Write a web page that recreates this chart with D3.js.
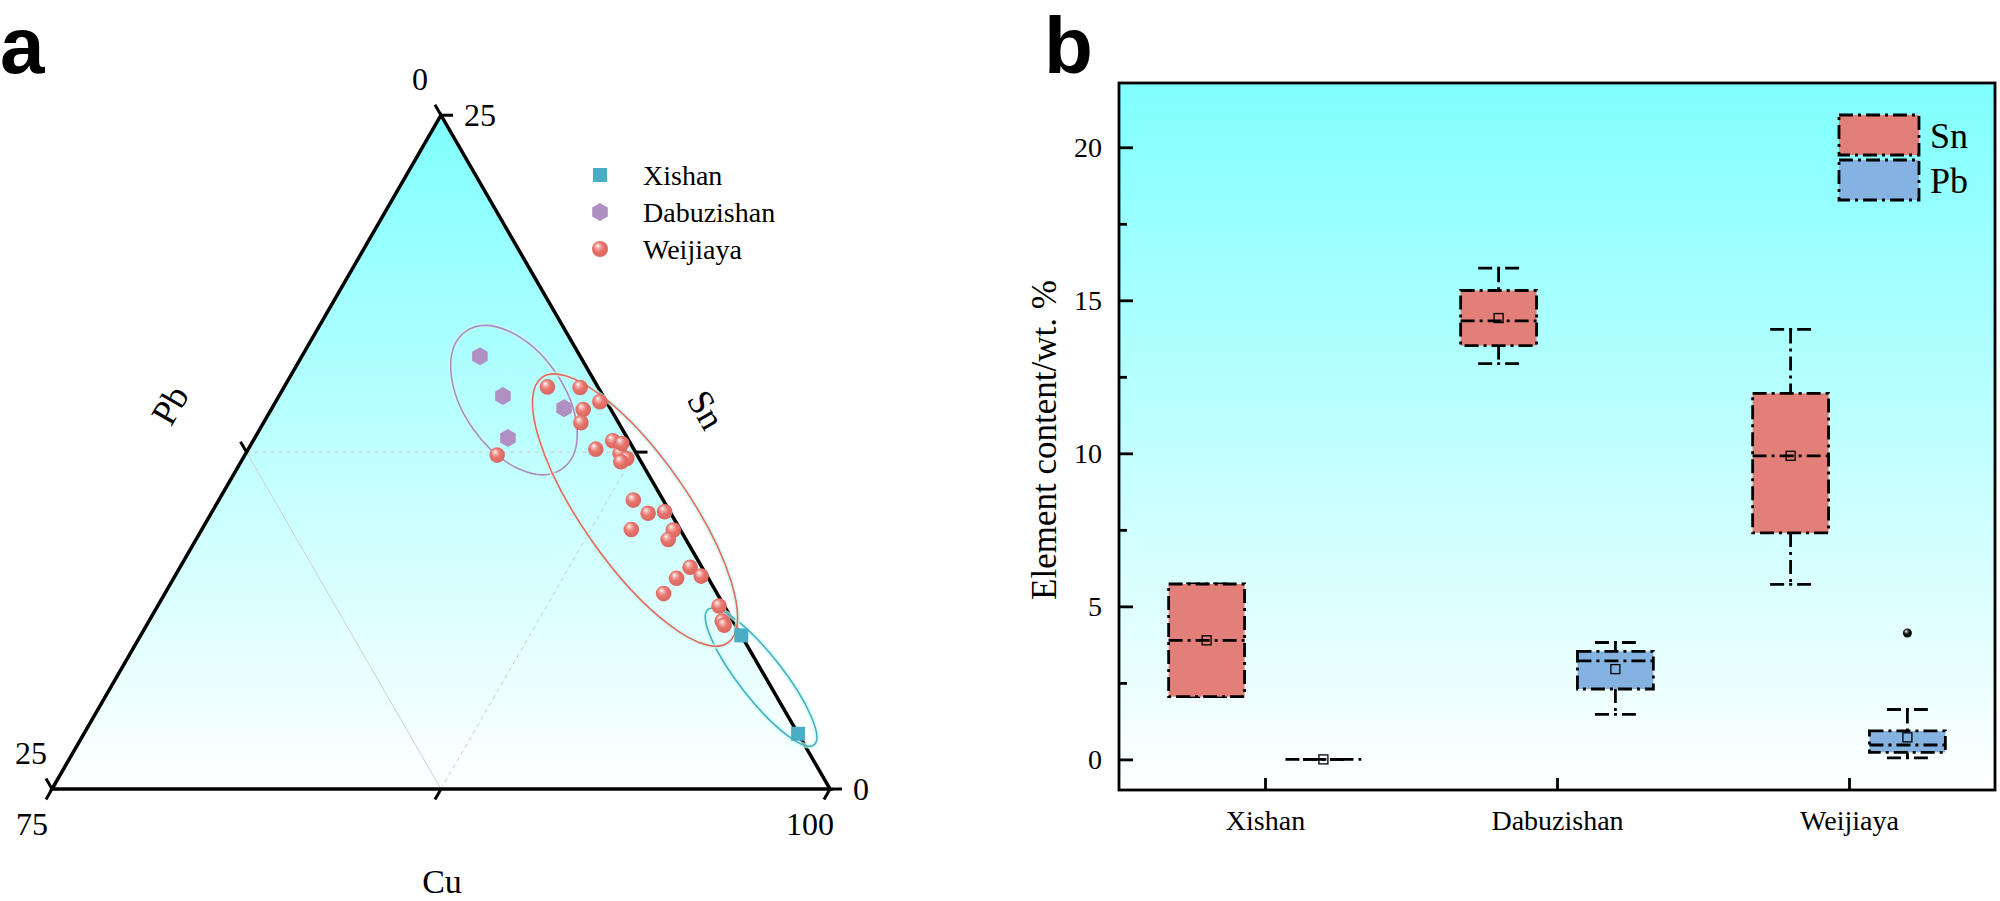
<!DOCTYPE html>
<html>
<head>
<meta charset="utf-8">
<script src="https://cdn.jsdelivr.net/npm/d3@7"></script>
<style>
body{margin:0;background:#fff;}
svg{display:block;font-family:"Liberation Serif","Times New Roman",serif;}
</style>
</head>
<body>
<div id="chart"></div>
<script>
// ternary data, wt.% of Sn and Pb (Cu is the rest)
var xishanSn = [2.05, 5.7]
var xishanPb = [0.0, 0.0]
var dabuSn = [16.06, 14.58, 13.02, 14.13]
var dabuPb = [3.22, 3.22, 3.84, 1.48]
var weijSn = [12.39, 14.92, 14.90, 14.37, 14.08, 13.59, 12.61, 12.92, 12.45, 12.26, 12.14, 12.82, 10.72, 10.23, 9.63, 10.29, 9.61, 9.26, 8.23, 7.90, 7.82, 7.25, 6.79, 6.23, 6.08]
var weijPb = [4.50, 1.62, 0.58, 0.21, 0.89, 1.21, 1.22, 0.52, 0.52, 0.40, 0.65, 0.28, 0.96, 0.73, 1.57, 0.17, 0.23, 0.57, 0.38, 0.19, 1.02, 1.72, 0.17, 0.35, 0.36]
// group ellipses: centre as Sn / Pb
var ellSn = [4.15, 14.43, 10.35]
var ellPb = [0.14, 2.94, 1.09]

var pbTicks = [0, 12.5, 25], pbTickLabels = ["0", "", "25"]
var snTicks = [0, 12.5, 25], snTickLabels = ["0", "", "25"]
var cuTicks = [75, 87.5, 100], cuTickLabels = ["75", "", "100"]

// box plot data: [min, q1, median, q3, max]
var groups = ["Xishan", "Dabuzishan", "Weijiaya"]
var snBox = [[2.05, 2.05, 3.89, 5.73, 5.73], [12.93, 13.52, 14.33, 15.32, 16.05], [5.72, 7.40, 9.92, 11.96, 14.05]]
var snMean = [3.89, 14.42, 9.92]
var pbBox = [[0, 0, 0, 0, 0], [1.47, 2.30, 3.22, 3.53, 3.82], [0.05, 0.23, 0.47, 0.93, 1.63]]
var pbMean = [0, 2.95, 0.72]
var pbOutliers = [[], [], [4.13]]
var yTicks = [0, 5, 10, 15, 20]
var yMinor = [2.5, 7.5, 12.5, 17.5]

var colSq = "#4BACC6", colHex = "#B08FC3"
var snFill = "#E27F78", pbFill = "#85B3E1"
var dash = "14,5,3,5"

var svg = d3.select("#chart").append("svg")
    .attr("width", 2000)
    .attr("height", 901)
var defs = svg.append("defs")

function vGrad(id, y1, y2){
    var g = defs.append("linearGradient").attr("id", id)
        .attr("gradientUnits", "userSpaceOnUse")
        .attr("x1", 0).attr("x2", 0).attr("y1", y1).attr("y2", y2)
    g.append("stop").attr("offset", "0%").attr("stop-color", "#80FFFF")
    g.append("stop").attr("offset", "100%").attr("stop-color", "#FFFFFF")
}
function sphereGrad(id, light, mid, dark){
    var g = defs.append("radialGradient").attr("id", id)
        .attr("cx", "45%").attr("cy", "45%").attr("r", "60%")
        .attr("fx", "35%").attr("fy", "28%")
    g.append("stop").attr("offset", "0%").attr("stop-color", "#ffffff")
    g.append("stop").attr("offset", "20%").attr("stop-color", light)
    g.append("stop").attr("offset", "50%").attr("stop-color", mid)
    g.append("stop").attr("offset", "100%").attr("stop-color", dark)
}
sphereGrad("sphRed", "#f4b8b3", "#e8756e", "#d6625b")
sphereGrad("sphBlack", "#888", "#111", "#000")

// ---------------- panel a : ternary ----------------
var side = 778, triH = side * Math.sqrt(3) / 2
var L = [52, 789], R = [52 + side, 789], T = [52 + side / 2, 789 - triH]
var wSn = d3.scaleLinear().domain([0, 25]).range([0, 1])
var wPb = d3.scaleLinear().domain([0, 25]).range([0, 1])
function proj(sn, pb){
    var a = wSn(sn), b = wPb(pb), c = 1 - a - b
    return [T[0] * a + L[0] * b + R[0] * c, T[1] * a + L[1] * b + R[1] * c]
}
vGrad("triGrad", T[1], L[1])

var ga = svg.append("g")
ga.append("text").attr("x", 0).attr("y", 73)
    .style("font-family", "'Liberation Sans',Arial,sans-serif")
    .style("font-weight", "bold").style("font-size", "80px").text("a")

ga.append("path")
    .attr("d", d3.line()([T, L, R]) + "Z")
    .attr("fill", "url(#triGrad)")

// grid lines at the middle of each axis
ga.append("path").attr("d", d3.line()([proj(12.5, 12.5), proj(12.5, 0)]))
    .attr("stroke", "#dcc3c6").attr("stroke-width", 1).attr("stroke-dasharray", "4,4")
ga.append("path").attr("d", d3.line()([proj(12.5, 12.5), proj(0, 12.5)]))
    .attr("stroke", "#cfcfcf").attr("stroke-width", 1)
ga.append("path").attr("d", d3.line()([proj(0, 12.5), proj(12.5, 0)]))
    .attr("stroke", "#c8c8c8").attr("stroke-width", 1).attr("stroke-dasharray", "4,4")

ga.append("path")
    .attr("d", d3.line()([T, L, R]) + "Z")
    .attr("fill", "none").attr("stroke", "#000").attr("stroke-width", 3.5)
    .attr("stroke-linejoin", "miter")

function ternTicks(vals, labels, pos, dir, labDist, anchor){
    vals.forEach(function(v, i){
        var p = pos(v)
        ga.append("line")
            .attr("x1", p[0]).attr("y1", p[1])
            .attr("x2", p[0] + dir[0] * 12).attr("y2", p[1] + dir[1] * 12)
            .attr("stroke", "#000").attr("stroke-width", 3)
        ga.append("text")
            .attr("x", p[0] + dir[0] * labDist).attr("y", p[1] + dir[1] * labDist)
            .attr("text-anchor", anchor).attr("dominant-baseline", "central")
            .style("font-size", "32px").text(labels[i])
    })
}
ternTicks(pbTicks, pbTickLabels, function(v){ return proj(25 - v, v) }, [-0.5, -0.866], 42, "middle")
ternTicks(snTicks, snTickLabels, function(v){ return proj(v, 0) }, [1, 0], 23, "start")
ternTicks(cuTicks, cuTickLabels, function(v){ return proj(0, 100 - v) }, [-0.5, 0.866], 40, "middle")

ga.append("text").attr("x", 442).attr("y", 893)
    .attr("text-anchor", "middle")
    .style("font-size", "34px").text("Cu")
ga.append("text").attr("transform", "translate(170,405) rotate(-60)")
    .attr("text-anchor", "middle").attr("dominant-baseline", "central")
    .style("font-size", "36px").text("Pb")
ga.append("text").attr("transform", "translate(706,410) rotate(60)")
    .attr("text-anchor", "middle").attr("dominant-baseline", "central")
    .style("font-size", "36px").text("Sn")

// ellipses
var ellRx = [22, 50, 53], ellRy = [86, 84, 162], ellRot = [-38, -35, -35]
var ellCol = [colSq, "#A88BC8", "#E8675F"]
ellSn.forEach(function(s, i){
    var c = proj(s, ellPb[i])
    var e = ga.append("g").attr("transform", "translate(" + c[0] + "," + c[1] + ") rotate(" + ellRot[i] + ")")
    e.append("ellipse").attr("rx", ellRx[i]).attr("ry", ellRy[i])
        .attr("fill", "none").attr("stroke", "#c8fff0").attr("stroke-width", 5).attr("opacity", 0.7)
    e.append("ellipse").attr("rx", ellRx[i]).attr("ry", ellRy[i])
        .attr("fill", "none").attr("stroke", ellCol[i]).attr("stroke-width", 1.6)
})

function hexPath(r){
    return d3.line()(d3.range(6).map(function(k){
        var a = Math.PI / 3 * k
        return [r * Math.sin(a), -r * Math.cos(a)]
    })) + "Z"
}
function drawSquare(g, p){
    g.append("rect").attr("x", p[0] - 7).attr("y", p[1] - 7)
        .attr("width", 14).attr("height", 14).attr("fill", colSq)
}
function drawHex(g, p){
    g.append("path").attr("d", hexPath(9))
        .attr("transform", "translate(" + p[0] + "," + p[1] + ")").attr("fill", colHex)
}
function drawSphere(g, p, r, fill){
    g.append("circle").attr("cx", p[0]).attr("cy", p[1]).attr("r", r).attr("fill", fill)
}

xishanSn.forEach(function(s, i){ drawSquare(ga, proj(s, xishanPb[i])) })
dabuSn.forEach(function(s, i){ drawHex(ga, proj(s, dabuPb[i])) })
weijSn.forEach(function(s, i){ drawSphere(ga, proj(s, weijPb[i]), 7.8, "url(#sphRed)") })

// legend a
var legA = ["Xishan", "Dabuzishan", "Weijiaya"]
legA.forEach(function(t, i){
    var yy = 175 + i * 37
    if(i == 0) drawSquare(ga, [600, yy])
    if(i == 1) drawHex(ga, [600, yy])
    if(i == 2) drawSphere(ga, [600, yy], 8, "url(#sphRed)")
    ga.append("text").attr("x", 643).attr("y", yy)
        .attr("dominant-baseline", "central").style("font-size", "28px").text(t)
})

// ---------------- panel b : box plot ----------------
var x = d3.scaleLinear().domain([0.5, 3.5]).range([1119, 1995])
var y = d3.scaleLinear().domain([-1, 22.1]).range([790, 83])
vGrad("boxGrad", y(22.1), y(-1))

var gb = svg.append("g")
gb.append("text").attr("x", 1044).attr("y", 73)
    .style("font-family", "'Liberation Sans',Arial,sans-serif")
    .style("font-weight", "bold").style("font-size", "80px").text("b")

gb.append("rect").attr("x", x(0.5)).attr("y", y(22.1))
    .attr("width", x(3.5) - x(0.5)).attr("height", y(-1) - y(22.1))
    .attr("fill", "url(#boxGrad)")

var bw = 0.26, capW = 0.14
function drawBox(st, mean, cx, fill){
    var xl = x(cx - bw / 2), xr = x(cx + bw / 2)
    var g = gb.append("g").attr("stroke", "#000").attr("stroke-width", 2.8)
        .attr("stroke-dasharray", dash).attr("fill", "none")
    g.append("line").attr("x1", x(cx)).attr("x2", x(cx)).attr("y1", y(st[4])).attr("y2", y(st[3]))
    g.append("line").attr("x1", x(cx)).attr("x2", x(cx)).attr("y1", y(st[1])).attr("y2", y(st[0]))
    ;[st[0], st[4]].forEach(function(v){
        g.append("line").attr("x1", x(cx - capW / 2)).attr("x2", x(cx + capW / 2))
            .attr("y1", y(v)).attr("y2", y(v))
    })
    g.append("rect").attr("x", xl).attr("y", y(st[3]))
        .attr("width", xr - xl).attr("height", y(st[1]) - y(st[3]))
        .attr("fill", fill)
    g.append("line").attr("x1", xl).attr("x2", xr).attr("y1", y(st[2])).attr("y2", y(st[2]))
    gb.append("rect").attr("x", x(cx) - 4.5).attr("y", y(mean) - 4.5)
        .attr("width", 9).attr("height", 9)
        .attr("fill", "none").attr("stroke", "#000").attr("stroke-width", 1.3)
}
groups.forEach(function(gname, i){
    drawBox(snBox[i], snMean[i], i + 1 - 0.2, snFill)
    drawBox(pbBox[i], pbMean[i], i + 1 + 0.2, pbFill)
    pbOutliers[i].forEach(function(v){
        drawSphere(gb, [x(i + 1 + 0.2), y(v)], 4.5, "url(#sphBlack)")
    })
})

// axes
gb.append("g").attr("transform", "translate(" + x(0.5) + ",0)")
    .call(d3.axisLeft(y).tickValues(yTicks).tickSizeInner(-14).tickSizeOuter(0).tickPadding(17))
    .call(function(a){
        a.select(".domain").remove()
        a.selectAll("line").attr("stroke-width", 2.8)
        a.selectAll("text").style("font-size", "28px").style("font-family", "'Liberation Serif',serif")
    })
gb.append("g").attr("transform", "translate(" + x(0.5) + ",0)")
    .call(d3.axisLeft(y).tickValues(yMinor).tickSizeInner(-8).tickSizeOuter(0).tickFormat(""))
    .call(function(a){
        a.select(".domain").remove()
        a.selectAll("line").attr("stroke-width", 2.8)
    })
gb.append("g").attr("transform", "translate(0," + y(-1) + ")")
    .call(d3.axisBottom(x).tickValues([1, 2, 3]).tickFormat(function(d){ return groups[d - 1] })
        .tickSizeInner(-12).tickSizeOuter(0).tickPadding(20))
    .call(function(a){
        a.select(".domain").remove()
        a.selectAll("line").attr("stroke-width", 2.8)
        a.selectAll("text").style("font-size", "28px").style("font-family", "'Liberation Serif',serif")
    })
gb.append("rect").attr("x", x(0.5)).attr("y", y(22.1))
    .attr("width", x(3.5) - x(0.5)).attr("height", y(-1) - y(22.1))
    .attr("fill", "none").attr("stroke", "#000").attr("stroke-width", 2.8)

gb.append("text").attr("transform", "translate(1044,440) rotate(-90)")
    .attr("text-anchor", "middle").attr("dominant-baseline", "central")
    .style("font-size", "35px").text("Element content/wt. %")

// legend b
var legB = ["Sn", "Pb"], legFill = [snFill, pbFill]
legB.forEach(function(t, i){
    var yy = 115 + i * 45
    gb.append("rect").attr("x", 1839).attr("y", yy).attr("width", 80).attr("height", 40)
        .attr("fill", legFill[i]).attr("stroke", "#000").attr("stroke-width", 2.8)
        .attr("stroke-dasharray", dash)
    gb.append("text").attr("x", 1930).attr("y", yy + 21)
        .attr("dominant-baseline", "central").style("font-size", "36px").text(t)
})
</script>
</body>
</html>
